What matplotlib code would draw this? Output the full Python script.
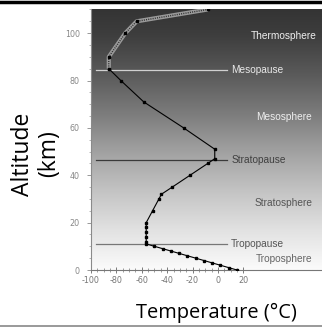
import numpy as np
import matplotlib
matplotlib.use("Agg")
import matplotlib.pyplot as plt
from matplotlib.ticker import FixedLocator, MultipleLocator

# Temperature profile of the atmosphere (altitude in km, temperature in deg C)
alt_lower = [0, 1, 2, 3, 4, 5, 6, 7, 8, 9, 10, 11, 12, 14, 16, 18, 20,
             25, 30, 32, 35, 40, 45, 47, 51, 60, 71, 80, 85]
temp_lower = [15, 8.5, 2, -4.5, -11, -17.5, -24, -30.5, -37, -43.5, -50, -56.5,
              -56.5, -56.5, -56.5, -56.5, -56.5,
              -51.5, -46.5, -44.5, -36, -22, -8, -2.5, -2.5, -27, -58.5, -76.5, -86]
alt_upper = [85, 90, 100, 105, 110]
temp_upper = [-86, -86, -73, -64, -8]

# Boundary layers: (name, altitude, line colour, text colour)
pauses = [("Mesopause", 84.5, "#d0d0d0", "#e8e8e8"),
          ("Stratopause", 46.5, "#3a3a3a", "#404040"),
          ("Tropopause", 11.0, "#777777", "#555555")]
# Layer names: (name, altitude, text colour)
spheres = [("Thermosphere", 98.7, "#eeeeee"),
           ("Mesosphere", 64.6, "#eeeeee"),
           ("Stratosphere", 28.4, "#555555"),
           ("Troposphere", 4.5, "#666666")]

x_ticks = [-100, -80, -60, -40, -20, 0, 20]
y_ticks = [0, 20, 40, 60, 80, 100]

W, H = 322, 329
fig = plt.figure(figsize=(W / 100, H / 100), dpi=100)

left_px, right_px, top_px, bottom_px = 91, 322, 9, 270
ax = fig.add_axes([left_px / W, 1 - bottom_px / H,
                   (right_px - left_px) / W, (bottom_px - top_px) / H])
ax.set_xlim(-100, 82)
ax.set_ylim(0, 110.2)

# vertical grey gradient background (light at the ground, dark aloft)
grad = np.linspace(0, 1, 256).reshape(-1, 1)
cmap = matplotlib.colors.LinearSegmentedColormap.from_list(
    "bg", [(0.0, "#fbfbfb"), (0.15, "#e2e2e2"), (0.3, "#c4c4c4"),
           (0.45, "#a2a2a2"), (0.6, "#7c7c7c"), (0.75, "#5a5a5a"),
           (0.9, "#3e3e3e"), (1.0, "#343434")])
ax.imshow(grad, aspect="auto", cmap=cmap, extent=[0, 1, 0, 1],
          transform=ax.transAxes, origin="lower", zorder=0)

# boundary lines and labels
label_font = dict(fontsize=7.3, family="Liberation Sans")
for name, a, lc, tc in pauses:
    ax.plot([-96, 7], [a, a], color=lc, lw=0.9, zorder=2)
    ax.text(10.5, a, name, color=tc, ha="left", va="center", zorder=3,
            **label_font)
for name, a, tc in spheres:
    ax.text(52, a, name, color=tc, ha="center", va="center", zorder=3,
            **label_font)

# temperature profile
ax.plot(temp_lower, alt_lower, color="black", lw=0.8, marker="s", ms=1.7,
        zorder=4)
ax.plot(temp_upper, alt_upper, color="#9a9a9a", lw=3.0, zorder=4,
        solid_capstyle="butt")
ax.plot(temp_upper, alt_upper, color="#2a2a2a", lw=1.0, ls=(0, (0.7, 0.9)),
        zorder=5)
ax.plot(temp_upper, alt_upper, ls="none", marker="s", ms=1.7, color="black",
        zorder=6)

# axes styling
for s in ("top", "right"):
    ax.spines[s].set_visible(False)
ax.spines["left"].set_color("#8a8a8a")
ax.spines["left"].set_linewidth(0.8)
ax.spines["bottom"].set_color("#777777")
ax.spines["bottom"].set_linewidth(0.8)

ax.set_xticks(x_ticks)
ax.set_xticklabels([str(v) for v in x_ticks])
ax.set_yticks(y_ticks)
ax.set_yticklabels([str(v) for v in y_ticks])
# minor ticks only along the labelled temperature range
ax.xaxis.set_minor_locator(FixedLocator(
    [v for v in range(-100, 21, 5) if v not in x_ticks]))
ax.yaxis.set_minor_locator(MultipleLocator(5))
ax.tick_params(axis="x", which="major", direction="inout", length=5,
               width=0.6, color="#666666", labelsize=5.8, labelcolor="#777777",
               pad=2)
ax.tick_params(axis="x", which="minor", direction="inout", length=3,
               width=0.5, color="#777777")
ax.tick_params(axis="y", which="major", direction="out", length=3,
               width=0.6, color="#888888", labelsize=5.8, labelcolor="#888888",
               pad=5)
ax.tick_params(axis="y", which="minor", direction="out", length=1.5,
               width=0.5, color="#999999")

# axis titles
fig.text(216 / W, 1 - 313 / H, "Temperature (°C)", fontsize=14.4,
         family="Open Sans", ha="center", va="center", color="black")
fig.text(36 / W, 1 - 154 / H, "Altitude\n(km)", fontsize=16.5,
         family="Open Sans", rotation=90, ha="center", va="center",
         multialignment="center", linespacing=1.1, color="black")

# frame lines of the slide
fig.add_artist(plt.Line2D([0, 1], [1 - 1.5 / H, 1 - 1.5 / H], color="black",
                          lw=2.5, transform=fig.transFigure))
fig.add_artist(plt.Line2D([0, 1], [1 - 326 / H, 1 - 326 / H], color="#999999",
                          lw=1.4, transform=fig.transFigure))

fig.savefig("out.png", dpi=100)
